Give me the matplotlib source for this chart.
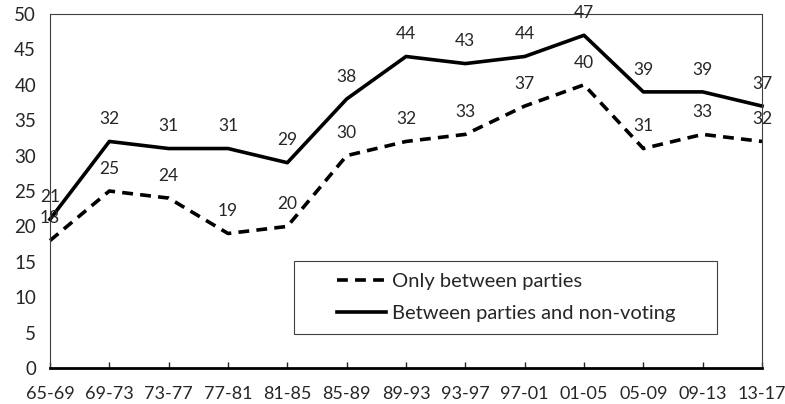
import numpy as np
import matplotlib.pyplot as plt
from matplotlib.patches import Rectangle

periods = ['65-69', '69-73', '73-77', '77-81', '81-85', '85-89', '89-93',
           '93-97', '97-01', '01-05', '05-09', '09-13', '13-17']
only_parties = [18, 25, 24, 19, 20, 30, 32, 33, 37, 40, 31, 33, 32]
parties_nonvoting = [21, 32, 31, 31, 29, 38, 44, 43, 44, 47, 39, 39, 37]

plt.rcParams['font.family'] = ['Lato', 'DejaVu Sans']
text_color = '#262626'

fig = plt.figure(figsize=(7.85, 4.04), dpi=100)
ax = fig.add_axes([0.0637, 0.0891, 0.907, 0.8762])

x = np.arange(len(periods))
ax.plot(x, only_parties, color='black', lw=2.6, ls=(0, (3, 2)),
        label='Only between parties', clip_on=False)
ax.plot(x, parties_nonvoting, color='black', lw=2.6,
        label='Between parties and non-voting', clip_on=False)

# value labels above each point
for xi, v in zip(x, only_parties):
    ax.annotate(str(v), (xi, v), xytext=(0, 16), textcoords='offset points',
                ha='center', va='center', fontsize=12.5, color=text_color,
                annotation_clip=False)
for xi, v in zip(x, parties_nonvoting):
    ax.annotate(str(v), (xi, v), xytext=(0, 16), textcoords='offset points',
                ha='center', va='center', fontsize=12.5, color=text_color,
                annotation_clip=False)

ax.set_xlim(0, len(periods) - 1)
ax.set_ylim(0, 50)
ax.set_yticks(np.arange(0, 51, 5))
ax.set_xticks(x)
ax.set_xticklabels(periods)

ax.tick_params(axis='x', direction='in', length=4, width=1, pad=13,
               labelsize=13, colors=text_color)
ax.tick_params(axis='y', length=0, pad=10, labelsize=13.5, colors=text_color)
for side in ['left', 'top', 'right']:
    ax.spines[side].set_linewidth(0.8)
    ax.spines[side].set_color('#404040')
ax.spines['bottom'].set_linewidth(2)
ax.spines['bottom'].set_color('black')

# legend box drawn separately so the entries can sit centred inside it
ax.add_patch(Rectangle((0.343, 0.096), 0.594, 0.206, transform=ax.transAxes,
                       fill=True, facecolor='white', edgecolor='#404040',
                       lw=0.8, zorder=4))
leg = ax.legend(loc='center left', bbox_to_anchor=(0.403, 0.2), frameon=False,
                fontsize=14.5, handlelength=2.45, handletextpad=0.28,
                borderpad=0, labelspacing=0.75, borderaxespad=0)
leg.set_zorder(5)
for t in leg.get_texts():
    t.set_color(text_color)

fig.savefig('out.png', dpi=100)
